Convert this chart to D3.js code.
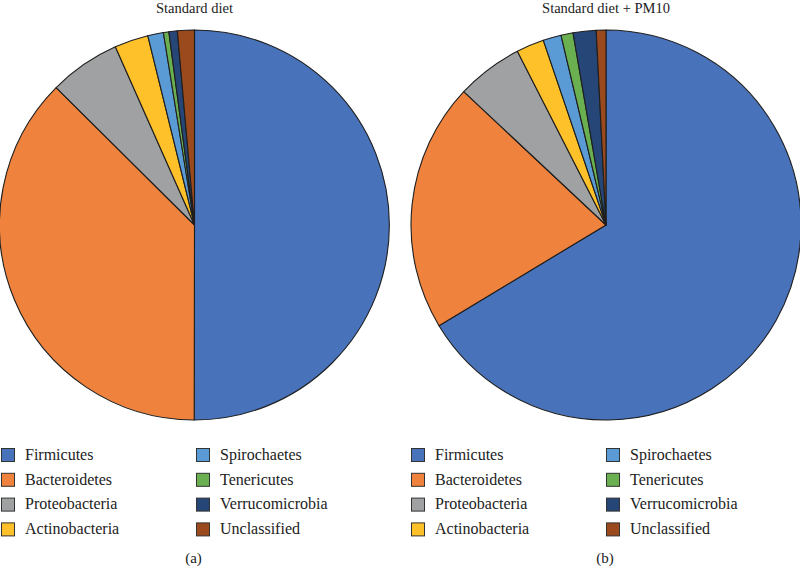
<!DOCTYPE html>
<html><head><meta charset="utf-8">
<script src="https://cdn.jsdelivr.net/npm/d3@7"></script>
<style>html,body{margin:0;padding:0;background:#fff;}svg{display:block;}</style>
</head><body>
<script>
const categories = ["Firmicutes","Bacteroidetes","Proteobacteria","Actinobacteria","Spirochaetes","Tenericutes","Verrucomicrobia","Unclassified"];
const standardDiet = [50.0, 37.4, 5.9, 2.8, 1.3, 0.45, 0.7, 1.4];
const standardDietPM10 = [66.3, 20.6, 5.5, 2.3, 1.5, 1.0, 1.9, 0.8];
const titles = ["Standard diet", "Standard diet + PM10"];
const panelLabels = ["(a)", "(b)"];
const colors = ["#4872BA","#EF823C","#A0A1A2","#FFC12A","#5A9BD5","#6AAF50","#254677","#9A4A1C"];

const W = 800, H = 570;
const svg = d3.select("body").append("svg").attr("width", W).attr("height", H);
const font = "'Liberation Serif', 'DejaVu Serif', serif";

const color = d3.scaleOrdinal().domain(categories).range(colors);
const pie = d3.pie().sort(null).value(d => d.v);
const r = 195;
const arc = d3.arc().innerRadius(0).outerRadius(r);

const panels = [
  {cx: 194.5, cy: 225, data: standardDiet, legX: 0, title: titles[0], label: panelLabels[0]},
  {cx: 606, cy: 225, data: standardDietPM10, legX: 410, title: titles[1], label: panelLabels[1]}
];

panels.forEach(p => {
  const g = svg.append("g").attr("transform", `translate(${p.cx},${p.cy})`);
  const rows = categories.map((c, i) => ({c, v: p.data[i]}));
  g.selectAll("path").data(pie(rows)).join("path")
    .attr("d", arc)
    .attr("fill", d => color(d.data.c))
    .attr("stroke", "#1e1e1e")
    .attr("stroke-width", 1.1)
    .attr("stroke-linejoin", "round");

  svg.append("text").attr("x", p.cx).attr("y", 13)
    .attr("text-anchor", "middle").attr("font-family", font).attr("font-size", 14.5)
    .attr("fill", "#222").text(p.title);

  const leg = svg.append("g").attr("transform", `translate(${p.legX},0)`);
  categories.forEach((c, i) => {
    const col = Math.floor(i / 4), row = i % 4;
    const x = col * 195 + 1.5;
    const yc = 455 + row * 24.8;
    leg.append("rect").attr("x", x).attr("y", yc - 6.5).attr("width", 13).attr("height", 13)
      .attr("fill", color(c)).attr("stroke", "#333").attr("stroke-width", 1);
    leg.append("text").attr("x", x + 23.5).attr("y", yc + 4.8)
      .attr("font-family", font).attr("font-size", 16).attr("fill", "#222").text(c);
  });

  svg.append("text").attr("x", p.cx - 1).attr("y", 563)
    .attr("text-anchor", "middle").attr("font-family", font).attr("font-size", 15)
    .attr("fill", "#222").text(p.label);
});
</script>
</body></html>
